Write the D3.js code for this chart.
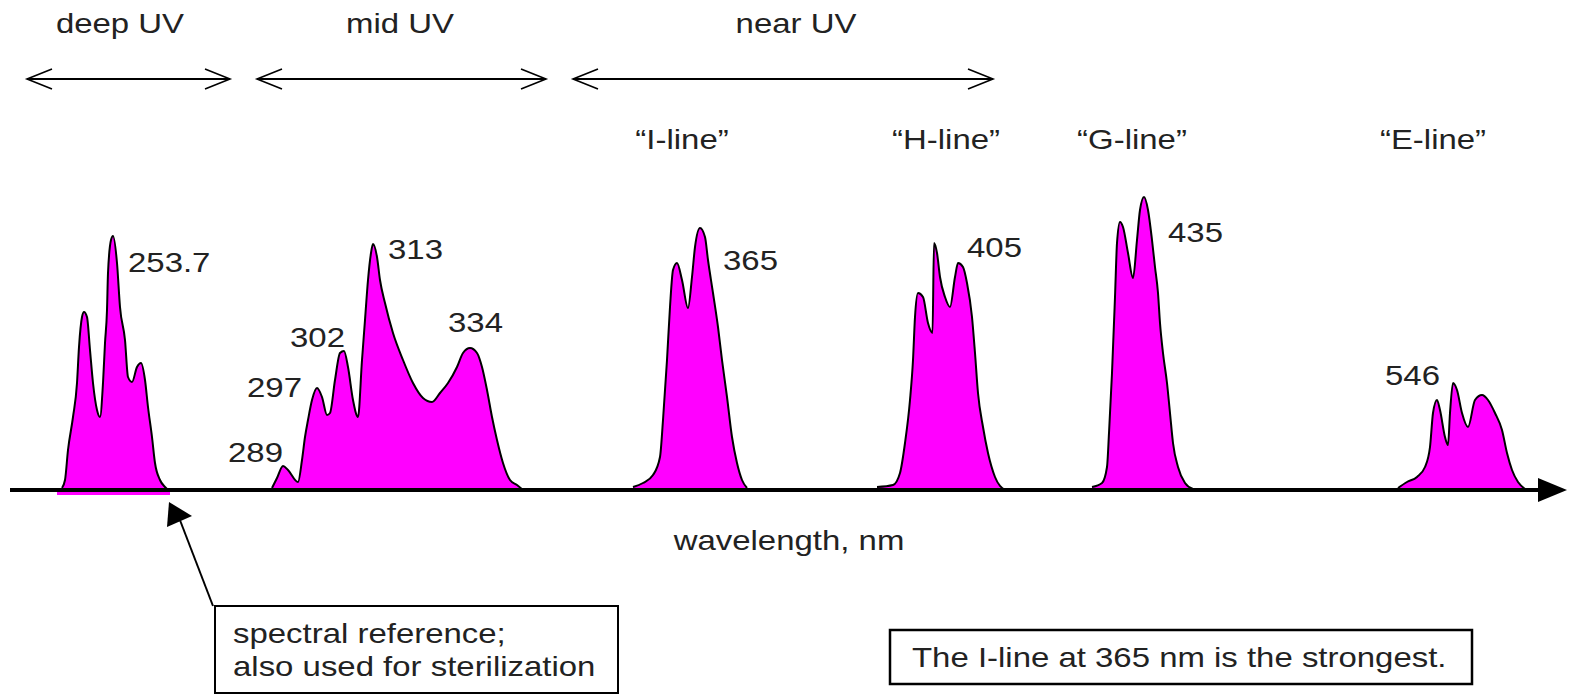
<!DOCTYPE html>
<html>
<head>
<meta charset="utf-8">
<script src="https://cdn.jsdelivr.net/npm/d3@7/dist/d3.min.js"></script>
<style>
  body { margin: 0; background: #fff; }
  svg { display: block; }
  text { font-family: "Liberation Sans", Arial, sans-serif; font-size: 27px; fill: #222; }
</style>
</head>
<body>
<svg width="1570" height="695"></svg>
<script>
// Mercury lamp emission spectrum (schematic axis position, relative intensity)
// each group is a list of [axis position, intensity]
var deepUV = [[62,2],[65,10],[68,40],[73,73],[77,107],[79,143],[82,173],[84,178],[87,173],[90,140],[93,107],[97,80],[100,73],
  [103,107],[105,147],[107,180],[108,217],[111,250],[113,254],[117,227],[120,183],[125,150],[128,113],[132,108],
  [137,123],[141,127],[145,110],[148,83],[152,53],[155,27],[160,10],[165,3],[168,0]];
var midUV = [[272,2],[277,12],[283,24],[288,20],[298,8],[302,30],[305,53],[308,70],[312,90],[317,102],[322,93],
  [327,75],[330,77],[335,110],[340,137],[344,139],[348,123],[353,90],[358,73],[362,130],[365,170],[368,210],
  [371,237],[373,246],[377,233],[380,210],[385,187],[393,157],[403,130],[413,107],[423,92],[432,88],[440,97],
  [448,107],[457,123],[463,137],[470,142],[477,137],[482,123],[487,100],[492,73],[497,50],[503,27],[510,10],
  [517,5],[523,0]];
var iLine = [[633,3],[643,7],[653,15],[660,33],[663,70],[667,130],[670,183],[673,220],[677,227],[682,210],
  [688,182],[692,213],[695,243],[700,262],[705,253],[708,230],[713,197],[718,163],[722,130],[727,93],
  [732,53],[737,27],[742,10],[747,2]];
var hLine = [[877,3],[893,5],[900,17],[905,47],[910,90],[913,130],[915,173],[918,197],[923,193],[928,167],
  [932.5,157],[934,247],[937,237],[940,213],[945,193],[950,183],[955,213],[958,227],[963,223],[967,207],
  [972,173],[975,137],[978,97],[983,63],[988,37],[995,13],[1005,0]];
var gLine = [[1092,3],[1102,7],[1107,23],[1109,57],[1112,117],[1115,193],[1117,247],[1120,268],[1123,263],
  [1128,237],[1133,212],[1137,250],[1140,280],[1144,293],[1148,280],[1152,250],[1155,223],[1158,197],
  [1160,167],[1163,137],[1167,107],[1170,77],[1173,47],[1178,23],[1185,7],[1193,1]];
var eLine = [[1398,2],[1407,8],[1417,13],[1425,23],[1430,43],[1433,77],[1437,90],[1440,80],[1445,53],
  [1448,45],[1450,77],[1453,107],[1457,100],[1462,77],[1468,63],[1475,90],[1482,95],[1488,90],[1495,77],
  [1502,60],[1507,37],[1512,20],[1518,8],[1525,1]];

// peak labels: text, left edge position, baseline level
var peakNames = ["253.7","289","297","302","313","334","365","405","435","546"];
var peakNameX = [128, 228, 247, 290, 388, 448, 723, 967, 1168, 1385];
var peakNameY = [218, 28, 93, 143, 231, 158, 220, 233, 248, 105];

// named lines
var lineNames = ["\u201cI-line\u201d", "\u201cH-line\u201d", "\u201cG-line\u201d", "\u201cE-line\u201d"];
var lineNameX = [682, 946, 1132, 1433];

// UV bands: arrow extents along the axis
var bandNames = ["deep UV", "mid UV", "near UV"];
var bandFrom = [27, 257, 573];
var bandTo = [230, 546, 993];
var bandLabelX = [120, 400, 796];

var svg = d3.select('svg');
var W = 1570;
var sx = 1.22; // the original artwork is stretched horizontally

var x = d3.scaleLinear().domain([0, 1570]).range([0, W]);
var y = d3.scaleLinear().domain([0, 300]).range([490, 190]);

function label(g, txt, px, py, anchor) {
    return g.append('text')
    .attr('transform', 'translate(' + px + ',' + py + ') scale(' + sx + ',1)')
    .attr('text-anchor', anchor || 'start')
    .text(txt);
}

var area = d3.area()
    .curve(d3.curveMonotoneX)
    .x(function(d){return x(d[0]);})
    .y0(y(0))
    .y1(function(d){return y(d[1]);});
var outline = d3.line()
    .curve(d3.curveMonotoneX)
    .x(function(d){return x(d[0]);})
    .y(function(d){return y(d[1]);});

var groups = [deepUV, midUV, iLine, hLine, gLine, eLine];

var g = svg.append('g');

g.selectAll('path.peak')
    .data(groups)
    .enter().append('path')
    .classed('peak', true)
    .attr('d', area)
    .attr('fill', '#ff00ff');

g.selectAll('path.edge')
    .data(groups)
    .enter().append('path')
    .classed('edge', true)
    .attr('d', outline)
    .attr('fill', 'none')
    .attr('stroke', '#000')
    .attr('stroke-width', 2);

// magenta mark under the 253.7 line
g.append('rect')
    .attr('x', x(57)).attr('y', y(0) + 2)
    .attr('width', x(170) - x(57)).attr('height', 3)
    .attr('fill', '#ff00ff');

// wavelength axis with arrow
g.append('line')
    .attr('x1', x(10)).attr('x2', x(1542))
    .attr('y1', y(0)).attr('y2', y(0))
    .attr('stroke', '#000').attr('stroke-width', 4);
g.append('path')
    .attr('d', 'M' + x(1538) + ',' + (y(0) - 12) + 'L' + x(1567) + ',' + y(0) + 'L' + x(1538) + ',' + (y(0) + 12) + 'Z')
    .attr('fill', '#000');
label(g, 'wavelength, nm', x(789), 550, 'middle');

// peak labels
g.selectAll('g.pk')
    .data(peakNames)
    .enter().append('g')
    .classed('pk', true)
    .each(function(d, i){ label(d3.select(this), d, x(peakNameX[i]), y(peakNameY[i])); });

// line names
lineNames.forEach(function(d, i){ label(g, d, x(lineNameX[i]), 149, 'middle'); });

// band arrows
bandNames.forEach(function(d, i){
    var a = x(bandFrom[i]), b = x(bandTo[i]), yy = 79;
    label(g, d, x(bandLabelX[i]), 33, 'middle');
    g.append('line').attr('x1', a).attr('x2', b).attr('y1', yy).attr('y2', yy)
    .attr('stroke', '#000').attr('stroke-width', 2);
    g.append('path')
    .attr('d', 'M' + (a + 25) + ',' + (yy - 10) + 'L' + a + ',' + yy + 'L' + (a + 25) + ',' + (yy + 10) +
        'M' + (b - 25) + ',' + (yy - 10) + 'L' + b + ',' + yy + 'L' + (b - 25) + ',' + (yy + 10))
    .attr('fill', 'none').attr('stroke', '#000').attr('stroke-width', 1.6);
});

// callout for 253.7
g.append('rect')
    .attr('x', 215).attr('y', 606).attr('width', 403).attr('height', 87)
    .attr('fill', '#fff').attr('stroke', '#000').attr('stroke-width', 2);
label(g, 'spectral reference;', 233, 643);
label(g, 'also used for sterilization', 233, 676);
g.append('line')
    .attr('x1', 213).attr('y1', 606).attr('x2', 178).attr('y2', 515)
    .attr('stroke', '#000').attr('stroke-width', 2);
g.append('path')
    .attr('d', 'M169,502L167,527L192,516Z')
    .attr('fill', '#000');

// note box
g.append('rect')
    .attr('x', 890).attr('y', 630).attr('width', 582).attr('height', 54)
    .attr('fill', '#fff').attr('stroke', '#000').attr('stroke-width', 2.5);
label(g, 'The I-line at 365 nm is the strongest.', 912, 667);
</script>
</body>
</html>
